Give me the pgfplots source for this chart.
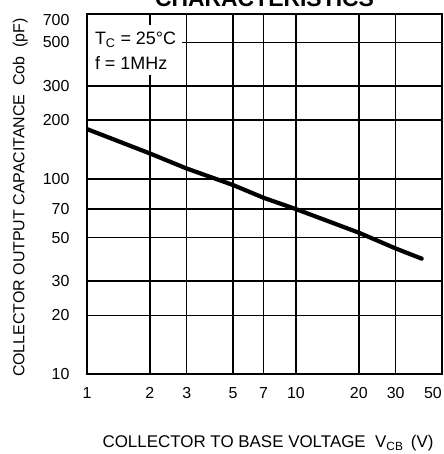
\documentclass[border=0pt]{standalone}
\usepackage{fontspec}
\setmainfont{Liberation Sans}
\usepackage{pgfplots}
\pgfplotsset{compat=1.18}
\usetikzlibrary{calc}

\begin{document}
\begin{tikzpicture}
\begin{axis}[
    name=ax,
    scale only axis,
    width=355bp, height=360bp,
    xmode=log, ymode=log,
    xmin=1, xmax=50, ymin=10, ymax=700,
    xtick={1,2,3,5,7,10,20,30},
    xticklabels={1,2,3,5,7,10,20,30},
    ytick={10,20,30,50,70,100,200,300,500},
    yticklabels={10,20,30,50,70,100,200,300,500},
    extra x ticks={50}, extra x tick labels={50},
    extra x tick style={xticklabel style={xshift=-9bp}},
    extra y ticks={700}, extra y tick labels={700},
    extra y tick style={yticklabel style={yshift=-6bp}},
    minor xtick={}, minor ytick={},
    major tick length=0pt,
    grid=major,
    grid style={black, line width=1.5pt},
    axis line style={black, line width=2.4pt},
    tick label style={font=\fontsize{16}{18}\selectfont},
    xticklabel style={yshift=-10bp},
    yticklabel style={xshift=-14bp},
    xlabel={COLLECTOR TO BASE VOLTAGE\ \ V\textsubscript{CB}\ \,(V)},
    xlabel style={at={(axis description cs:0.51,-0.192)}, anchor=center,
        font=\fontsize{17}{19}\selectfont},
    ylabel={COLLECTOR OUTPUT CAPACITANCE\ \ Cob\ \ (pF)},
    ylabel style={at={(axis description cs:-0.188,0.49)}, anchor=center,
        font=\fontsize{16}{18}\selectfont},
]
    % Cob vs VCB, Tc = 25 C, f = 1 MHz
    \addplot[black, line width=4.2pt, line cap=round] coordinates {
        (1,180) (2,135) (3,113) (5,93) (7,80) (10,70) (20,53) (30,44) (40,39)
    };

    \fill[white] (rel axis cs:0.004,0.83) rectangle (rel axis cs:0.268,0.97);
    \node[anchor=west, inner sep=0pt, font=\fontsize{18}{20}\selectfont]
        at (rel axis cs:0.022,0.928) {T\textsubscript{C} = 25°C};
    \node[anchor=west, inner sep=0pt, font=\fontsize{18}{20}\selectfont]
        at (rel axis cs:0.022,0.864) {f = 1MHz};
\end{axis}

\node[anchor=base, font=\fontsize{23}{25}\selectfont\bfseries]
    at ($(ax.north)+(0,7bp)$) {CHARACTERISTICS};

\pgfresetboundingbox
\path[use as bounding box] ($(ax.south west)+(-87bp,-80bp)$) rectangle ($(ax.north east)+(2bp,14bp)$);
\end{tikzpicture}
\end{document}
